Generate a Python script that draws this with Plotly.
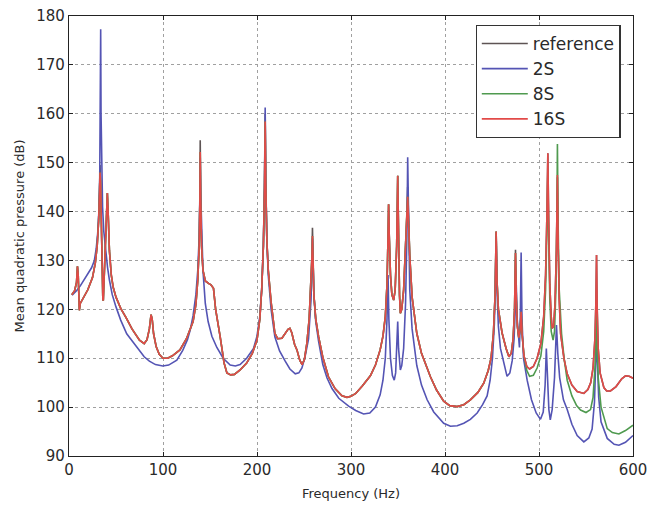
import plotly.graph_objects as go

# ---------------- data ----------------
# 16S (red)
red_freq = [3, 6, 8, 9, 9.8, 10.5, 11, 12, 15, 20, 25, 28, 30, 31.5, 32.5, 33, 33.6, 34.3, 35.2, 36, 36.5,
            37.2, 38.5, 39.8, 40.8, 41.8, 43, 45, 47, 50, 55, 60.7, 67, 75, 80, 83, 85.5, 87.3, 88.5, 90,
            92.7, 96, 100, 105, 110, 118, 125, 132, 135, 137, 138.5, 139.2, 139.6, 140.1, 141, 142.5, 145,
            148.4, 151, 153.7, 156, 160.8, 165, 168, 172, 176, 182, 189, 195, 200, 203, 205, 206.8, 208,
            208.7, 209.3, 210.5, 212, 215, 219, 222, 226.5, 230, 233, 235, 237, 240, 242.5, 245.5, 248,
            250.5, 253, 255.5, 257.5, 258.5, 259, 259.6, 260.5, 262.5, 265.5, 270, 276, 283, 290.4, 295.7,
            300, 305, 312, 320.6, 326, 331, 334, 336.5, 338.3, 339.4, 340, 340.7, 342, 343.5, 345.4, 347,
            348.6, 349.7, 350.7, 351.6, 352.5, 354, 356, 358, 359.5, 360.3, 361.2, 362.5, 365, 370, 375,
            384.5, 391, 398.6, 405, 412.9, 420, 427, 435, 441.2, 446, 449, 451.5, 453.3, 454.4, 455.3,
            456.8, 460.8, 465, 468, 470.5, 472.5, 474, 475, 475.9, 477, 478.5, 480, 481, 482, 484, 487, 490,
            494, 498, 502, 505, 507, 508.5, 509.4, 510.3, 511.5, 513, 514, 515.5, 517, 518.5, 519.6, 520.4,
            521.5, 523, 526.5, 530, 535, 540.6, 547.7, 552, 555, 557.5, 559.5, 560.6, 561.2, 561.8, 563,
            565, 569, 572, 576, 582, 588, 592, 596, 600]
red_db = [123.0, 123.8, 125.5, 128.8, 127.0, 120.5, 119.8, 121.2, 122.2, 124.0, 126.5, 129.5, 133.0, 138.0,
          144.0, 148.0, 146.0, 137.0, 128.0, 122.0, 121.8, 126.0, 134.0, 141.0, 143.8, 139.0, 132.0, 127.0,
          124.5, 122.5, 120.2, 118.3, 116.0, 113.7, 113.0, 113.8, 116.0, 118.9, 118.0, 115.0, 112.4, 110.8,
          110.0, 110.0, 110.5, 111.7, 114.0, 117.5, 121.0, 126.0, 133.0, 142.0, 152.2, 143.0, 133.0, 128.0,
          125.8, 125.3, 125.0, 124.3, 120.0, 114.4, 109.0, 107.0, 106.6, 106.7, 107.6, 109.0, 111.0, 113.7,
          118.0, 124.0, 133.0, 145.0, 158.4, 146.0, 134.0, 128.0, 121.5, 115.1, 114.0, 114.1, 115.0, 115.9,
          116.1, 115.2, 112.8, 111.7, 109.6, 108.7, 109.8, 113.0, 118.0, 125.0, 131.0, 135.0, 130.0, 123.0,
          118.0, 114.4, 110.2, 106.2, 103.8, 102.3, 102.0, 102.2, 102.8, 104.3, 106.4, 108.6, 111.7, 114.5,
          118.5, 125.0, 135.0, 141.5, 135.0, 127.0, 123.0, 121.9, 124.0, 133.0, 147.3, 133.0, 123.0, 119.2,
          120.0, 124.0, 132.0, 140.0, 143.0, 138.0, 131.0, 122.5, 115.1, 111.0, 106.2, 103.5, 101.2, 100.3,
          100.1, 100.5, 101.5, 103.0, 104.9, 107.5, 110.0, 115.0, 123.0, 135.9, 126.0, 120.0, 115.1, 112.0,
          110.3, 111.0, 114.0, 120.0, 131.5, 122.0, 116.5, 114.2, 116.0, 119.5, 115.0, 110.5, 108.3, 107.8,
          108.3, 110.0, 113.0, 118.5, 127.0, 140.0, 151.9, 138.0, 125.0, 118.5, 116.1, 116.5, 121.0, 132.0,
          147.5, 133.0, 122.0, 115.0, 110.0, 106.8, 104.5, 103.2, 102.8, 103.6, 105.0, 108.0, 114.0, 122.0,
          131.1, 121.0, 112.0, 107.0, 104.0, 103.3, 103.3, 104.2, 105.8, 106.4, 106.3, 105.9]

# 2S (blue)
blue_freq = [3.3, 8, 12, 16, 20, 24, 27, 29, 30.5, 31.8, 32.7, 33.3, 33.7, 34.1, 34.7, 35.7, 37, 39, 41, 43,
             46, 50, 55, 61.4, 67.8, 75, 80, 85.5, 92, 99.8, 106, 114.7, 121, 126, 129, 132, 135, 137, 138.5,
             139.2, 139.6, 140.1, 141, 142.5, 145, 148, 152, 157.3, 164, 171.5, 177, 182, 189, 196.3, 200,
             203, 205, 206.8, 208, 208.7, 209.3, 210.5, 212, 215, 219, 224, 230, 235, 240.7, 244.5, 247.8,
             251, 254.8, 257.5, 258.5, 259, 259.6, 260.5, 262.5, 265.5, 270, 274.4, 279.8, 287, 297.5, 305,
             313.4, 320, 326, 331, 334, 336.5, 338.3, 339.4, 340.3, 342, 344, 346, 347.5, 348.8, 349.7, 350.6,
             351.5, 352.5, 354, 356, 358, 359.5, 360.3, 361.2, 362.5, 365, 370, 375, 381, 388, 398.6, 405.8,
             413, 420, 427, 434.2, 440, 444.8, 448, 450.5, 452.5, 453.6, 454.4, 455.3, 456.8, 459, 462.5, 466,
             469, 471.5, 473.5, 475, 475.8, 476.8, 478.5, 479.2, 480, 481, 481.9, 483.5, 487.4, 492, 497,
             501.6, 504.5, 506.5, 507.8, 509, 510.5, 512, 514, 516.5, 518.6, 520, 522, 526, 530, 535, 540.6,
             547.7, 553, 556.5, 559, 560.5, 561.2, 562, 563.5, 566, 572.6, 580, 585, 592, 600]
blue_db = [122.9, 123.8, 124.8, 126.0, 127.2, 128.5, 130.0, 132.5, 135.5, 140.0, 147.0, 158.0, 177.3, 160.0,
           149.0, 141.0, 136.0, 132.0, 128.6, 126.0, 123.0, 120.5, 117.8, 115.0, 113.4, 111.4, 110.3, 109.4,
           108.7, 108.4, 108.6, 109.6, 111.6, 113.8, 115.8, 118.7, 123.0, 128.0, 135.0, 143.0, 151.0, 144.0,
           135.0, 128.0, 121.2, 117.5, 114.5, 112.2, 110.0, 108.6, 108.4, 108.7, 110.0, 112.0, 114.5, 118.5,
           124.0, 133.0, 146.0, 161.3, 147.0, 134.0, 127.0, 120.0, 114.4, 111.5, 109.4, 107.8, 106.8, 107.0,
           108.0, 110.2, 113.9, 122.0, 129.0, 134.5, 130.0, 123.0, 117.5, 113.5, 108.7, 106.0, 103.8, 101.8,
           100.2, 99.3, 98.6, 98.8, 100.0, 102.5, 105.5, 110.0, 118.0, 127.0, 118.0, 110.0, 106.5, 105.5,
           107.0, 112.0, 117.5, 112.0, 108.5, 107.6, 108.5, 112.0, 121.0, 135.0, 151.1, 136.0, 124.0, 116.0,
           108.5, 104.5, 101.5, 99.0, 96.7, 96.1, 96.2, 96.7, 97.5, 98.8, 100.5, 102.3, 105.5, 110.0, 117.0,
           125.0, 135.0, 124.0, 116.5, 112.0, 109.2, 106.3, 107.0, 109.5, 114.0, 121.0, 125.0, 118.0, 113.0,
           112.2, 117.0, 131.6, 118.0, 110.0, 105.5, 101.5, 98.8, 97.5, 99.0, 104.5, 112.0, 106.0, 99.5, 97.4,
           99.5, 106.0, 116.8, 111.0, 106.0, 101.5, 99.5, 96.5, 94.2, 92.9, 93.7, 95.5, 101.0, 110.0, 117.0,
           110.0, 102.0, 97.0, 93.6, 92.4, 92.2, 92.8, 94.2]

# 8S (green): follows the 16S curve up to 484 Hz, then its own tail
green_split = 484
green_tail_freq = [484, 487, 490, 494, 498, 502, 505, 507, 508.5, 509.4, 510.3, 511.5, 513, 515, 516.5, 518,
                   519, 519.6, 520.3, 521.5, 524, 527, 530, 535, 540, 544.2, 550, 554.8, 557.5, 559.5, 560.6,
                   561.2, 561.8, 563, 566, 572.6, 578, 585, 592, 600]
green_tail_db = [110.5, 107.5, 106.3, 106.5, 108.0, 110.5, 115.5, 124.0, 137.0, 148.0, 135.0, 122.0, 115.5,
                 113.7, 115.5, 124.0, 138.0, 153.8, 138.0, 124.0, 115.0, 109.5, 105.5, 102.3, 100.3, 99.4,
                 98.9, 99.5, 102.0, 108.0, 114.0, 119.0, 113.0, 106.0, 100.0, 95.6, 94.8, 94.5, 95.2, 96.3]

# reference (dark): lies under the 16S curve, with its own peak tips
ref_peak_freq = [33, 139.6, 208.7, 259, 360.3, 475, 481, 519.6]
ref_peak_db = [149.5, 154.6, 160.0, 136.7, 145.0, 132.2, 120.0, 147.0]

# ---------------- build traces ----------------
green_freq = [f for f in red_freq if f < green_split] + green_tail_freq
green_db = [d for f, d in zip(red_freq, red_db) if f < green_split] + green_tail_db

ref_lookup = dict(zip(ref_peak_freq, ref_peak_db))
ref_freq = list(red_freq)
ref_db = [ref_lookup.get(f, d) for f, d in zip(red_freq, red_db)]

series = [
    ("reference", ref_freq, ref_db, "#5e5454"),
    ("2S", blue_freq, blue_db, "#5454b4"),
    ("8S", green_freq, green_db, "#4f9a4f"),
    ("16S", red_freq, red_db, "#e24a48"),
]

font_family = "DejaVu Sans, Verdana, sans-serif"

fig = go.Figure()
for name, xs, ys, color in series:
    fig.add_trace(go.Scatter(x=xs, y=ys, mode="lines", name=name, legendgroup=name,
                             line=dict(color=color, width=1.6)))

axis_common = dict(
    showline=True, linecolor="#222222", linewidth=1.2, mirror="ticks",
    ticks="inside", ticklen=4, tickcolor="#222222",
    showgrid=True, gridcolor="#a0a0a0", griddash="dot", gridwidth=1,
    zeroline=False, automargin=False, ticklabeloverflow="allow",
    tickfont=dict(family=font_family, size=15, color="#2a2a2a"),
)

fig.update_xaxes(range=[0, 600], dtick=100, tick0=0,
                 title=dict(text="Frequency (Hz)", standoff=10,
                            font=dict(family=font_family, size=13, color="#2a2a2a")),
                 **axis_common)
fig.update_yaxes(range=[90, 180], dtick=10, tick0=90,
                 title=dict(text="Mean quadratic pressure (dB)", standoff=8,
                            font=dict(family=font_family, size=13, color="#2a2a2a")),
                 **axis_common)

fig.update_layout(
    width=648, height=513,
    margin=dict(l=69, r=15, t=16, b=57, autoexpand=False),
    paper_bgcolor="white", plot_bgcolor="white",
    font=dict(family=font_family, color="#2a2a2a"),
    legend=dict(x=0.978, y=0.98, xanchor="right", yanchor="top",
                bgcolor="white", bordercolor="#333333", borderwidth=1.2,
                font=dict(family=font_family, size=17, color="#2a2a2a"),
                itemwidth=46, tracegroupgap=0),
    showlegend=True,
)

# remove the browser's default page margin so the figure fills the window exactly
fig.write_html("out.html",
               config={"displayModeBar": False},
               post_script="document.body.style.margin='0';document.body.style.overflow='hidden';")
